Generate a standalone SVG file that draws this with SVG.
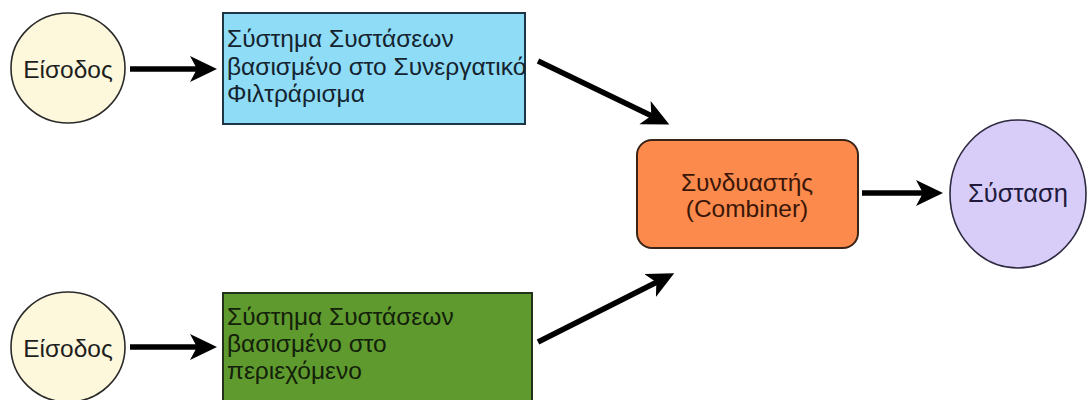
<svg xmlns="http://www.w3.org/2000/svg" width="1088" height="400" viewBox="0 0 1088 400">
  <defs>
    <style>
      text { font-family: "Liberation Sans", Arial, sans-serif; font-size: 24.5px; }
      .in { fill: #fdf8dc; stroke: #2a2a2a; stroke-width: 1.6; }
      .lbl { fill: #1e1e1e; }
      .conn { stroke: #000; stroke-width: 5.5; fill: none; marker-end: url(#ah); }
    </style>
    <marker id="ah" markerUnits="userSpaceOnUse" markerWidth="28" markerHeight="28" viewBox="0 0 28 28" refX="10" refY="14" orient="auto">
      <path d="M0,1 L27,14 L0,27 L7,14 Z" fill="#000"/>
    </marker>
  </defs>
  <rect width="1088" height="400" fill="#ffffff"/>

  <g id="input1">
    <ellipse class="in" cx="68" cy="68" rx="57" ry="55"/>
    <text class="lbl" x="68" y="78" text-anchor="middle">Είσοδος</text>
  </g>

  <g id="input2">
    <ellipse class="in" cx="68" cy="347" rx="57" ry="55"/>
    <text class="lbl" x="68" y="357" text-anchor="middle">Είσοδος</text>
  </g>

  <g id="cf">
    <rect x="223" y="13" width="302" height="111" fill="#8fdcf7" stroke="#1d3544" stroke-width="2"/>
    <text fill="#14232e" x="227" y="47">Σύστημα Συστάσεων</text>
    <text fill="#14232e" x="227" y="75">βασισμένο στο Συνεργατικό</text>
    <text fill="#14232e" x="227" y="102">Φιλτράρισμα</text>
  </g>

  <g id="cb">
    <rect x="223" y="293" width="309" height="125" fill="#5f9a2f" stroke="#23301a" stroke-width="2"/>
    <text fill="#13200a" x="227" y="325">Σύστημα Συστάσεων</text>
    <text fill="#13200a" x="227" y="352">βασισμένο στο</text>
    <text fill="#13200a" x="227" y="379">περιεχόμενο</text>
  </g>

  <g id="combiner">
    <rect x="637" y="140" width="221" height="108" rx="15" ry="15" fill="#fc8a4c" stroke="#3a2418" stroke-width="2"/>
    <text fill="#3a1608" x="747" y="191" text-anchor="middle">Συνδυαστής</text>
    <text fill="#3a1608" x="747" y="217" text-anchor="middle">(Combiner)</text>
  </g>

  <g id="recommendation">
    <ellipse cx="1018" cy="194" rx="68" ry="74" fill="#d7cdf8" stroke="#2e2a40" stroke-width="1.6"/>
    <text fill="#221a3c" x="1018" y="202" text-anchor="middle" style="font-size:25.5px">Σύσταση</text>
  </g>

  <g id="connectors">
    <line class="conn" x1="130" y1="69" x2="200" y2="69"/>
    <line class="conn" x1="130" y1="347" x2="200" y2="347"/>
    <line class="conn" x1="538" y1="61" x2="654" y2="117"/>
    <line class="conn" x1="538" y1="342" x2="659" y2="281"/>
    <line class="conn" x1="862" y1="193" x2="926" y2="193"/>
  </g>
</svg>
